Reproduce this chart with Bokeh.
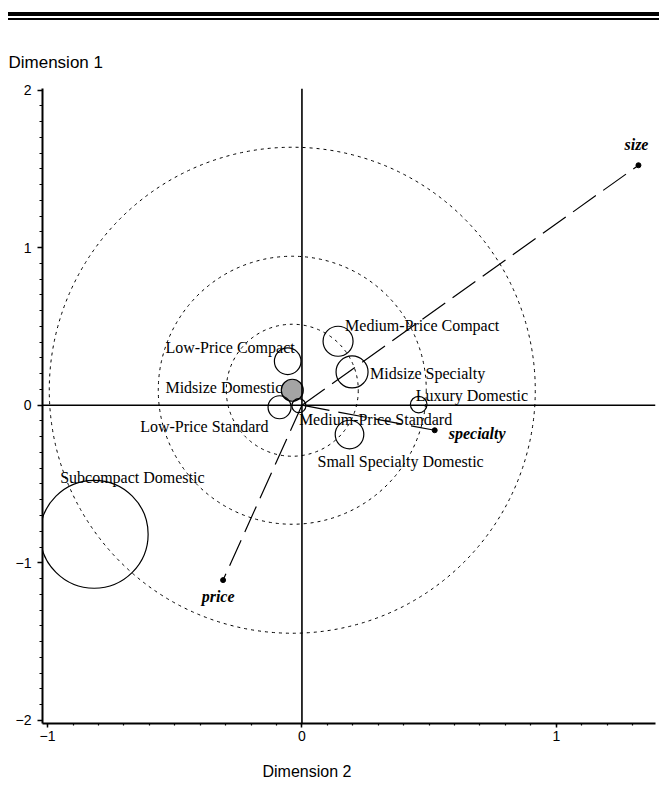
from bokeh.plotting import figure
from bokeh.models import ColumnDataSource, Span, SingleIntervalTicker, Title, Div
from bokeh.layouts import column
from bokeh.embed import file_html
from bokeh.resources import INLINE
from bokeh.core.properties import value

# ---- data ----
segments = ["Low-Price Compact", "Midsize Domestic", "Low-Price Standard",
            "Medium-Price Standard", "Medium-Price Compact", "Midsize Specialty",
            "Luxury Domestic", "Small Specialty Domestic", "Subcompact Domestic"]
seg_dim2 = [-0.056, -0.038, -0.088, -0.012, 0.142, 0.197, 0.459, 0.187, -0.817]
seg_dim1 = [0.279, 0.095, -0.013, -0.003, 0.406, 0.211, 0.004, -0.186, -0.819]
seg_bubble = [13.3, 11.0, 11.5, 7.0, 15.0, 16.0, 8.3, 14.3, 54.0]   # bubble radius (px)
reference_segment = "Midsize Domestic"

attributes = ["size", "price", "specialty"]
attr_dim2 = [1.323, -0.310, 0.522]
attr_dim1 = [1.523, -1.110, -0.159]

ring_radius = [66, 134, 243]   # px, rings around the reference segment

x_tick_labels = {-1: "\u22121", 0: "0", 1: "1"}
y_tick_labels = {-2: "\u22122", -1: "\u22121", 0: "0", 1: "1", 2: "2"}

# ---- label layout (screen offsets) ----
seg_align = ["right", "right", "right", "left", "left", "left", "left", "left", "left"]
seg_dx = [7, -10, -11, 0, 7, 18, -3, -32, -34]
seg_dy = [-14, -3, 19, 14, -16, 2, -9, 27, -57]
attr_align = ["center", "center", "left"]
attr_dx = [-2, -5, 14]
attr_dy = [-21, 16, 3]

SERIF = value("Liberation Serif")

p = figure(width=659, height=776, x_range=(-1.02, 1.39), y_range=(-2.02, 2.01),
           output_backend="svg", toolbar_location=None,
           min_border_left=42, min_border_right=4, min_border_top=66, min_border_bottom=75)
p.outline_line_color = None
p.grid.visible = False
p.background_fill_color = "white"
p.border_fill_color = "white"

# axes
for ax, labels in ((p.xaxis[0], x_tick_labels), (p.yaxis[0], y_tick_labels)):
    ax.ticker = SingleIntervalTicker(interval=1, num_minor_ticks=10)
    ax.axis_line_width = 2
    ax.axis_line_color = "black"
    ax.major_tick_in = 0
    ax.minor_tick_in = 0
    ax.major_tick_line_width = 1.5
    ax.minor_tick_line_width = 1.2
    ax.major_label_text_font = "Liberation Sans"
    ax.major_label_text_font_size = "14px"
    ax.major_label_text_color = "black"
    ax.major_label_overrides = labels
p.xaxis.major_tick_out = 4
p.xaxis.minor_tick_out = 2
p.xaxis.major_label_standoff = 3
p.yaxis.major_tick_out = 5
p.yaxis.minor_tick_out = 3
p.yaxis.major_label_standoff = 6

p.title.text = "Dimension 1"
p.title.align = "left"
p.title.offset = -34
p.title.text_font = "Liberation Sans"
p.title.text_font_size = "17px"
p.title.text_font_style = "normal"
p.title.text_color = "black"
p.title.standoff = 33

p.add_layout(Title(text="Dimension 2", align="left", offset=220,
                   text_font="Liberation Sans", text_font_size="16px",
                   text_font_style="normal", text_color="black", standoff=34), "below")

# zero reference lines
p.add_layout(Span(location=0, dimension="width", line_color="black", line_width=1.6))
p.add_layout(Span(location=0, dimension="height", line_color="black", line_width=1.6))

ref_i = segments.index(reference_segment)
rings = ColumnDataSource(dict(x=[seg_dim2[ref_i]] * len(ring_radius),
                              y=[seg_dim1[ref_i]] * len(ring_radius),
                              d=[2 * r for r in ring_radius]))
p.scatter("x", "y", size="d", source=rings, marker="circle", fill_color=None,
          line_color="black", line_width=1, line_dash="3 4")

# attribute vectors
vec = ColumnDataSource(dict(x0=[0] * 3, y0=[0] * 3, x1=attr_dim2, y1=attr_dim1,
                            name=attributes, align=attr_align, dx=attr_dx, dy=attr_dy))
p.segment("x0", "y0", "x1", "y1", source=vec, line_color="black", line_width=1.2,
          line_dash="28 9")
p.scatter("x1", "y1", source=vec, size=5, marker="circle", color="black")
p.text("x1", "y1", text="name", source=vec, text_font=SERIF, text_font_size="16px",
       text_font_style="bold italic", text_align="align", text_baseline="alphabetic",
       x_offset="dx", y_offset="dy", text_color="black")

# segment bubbles
seg = ColumnDataSource(dict(x=seg_dim2, y=seg_dim1, d=[2 * r for r in seg_bubble],
                            name=segments, align=seg_align, dx=seg_dx, dy=seg_dy,
                            fa=[1.0 if s == reference_segment else 0.0 for s in segments]))
p.scatter("x", "y", size="d", source=seg, marker="circle", fill_color="#a4a4a4",
          fill_alpha="fa", line_color="black", line_width=1.2)
p.text("x", "y", text="name", source=seg, text_font=SERIF, text_font_size="16px",
       text_align="align", text_baseline="alphabetic", x_offset="dx", y_offset="dy",
       text_color="black")

rule = Div(text='<div style="box-sizing:content-box;margin:12px 0 0 8px;width:651px;'
                'height:2px;border-top:4px solid #000;border-bottom:2px solid #000"></div>',
           width=659, height=22, margin=(0, 0, 0, 0))

layout = column(rule, p, spacing=0)
open("out.html", "w").write(file_html(layout, INLINE))
